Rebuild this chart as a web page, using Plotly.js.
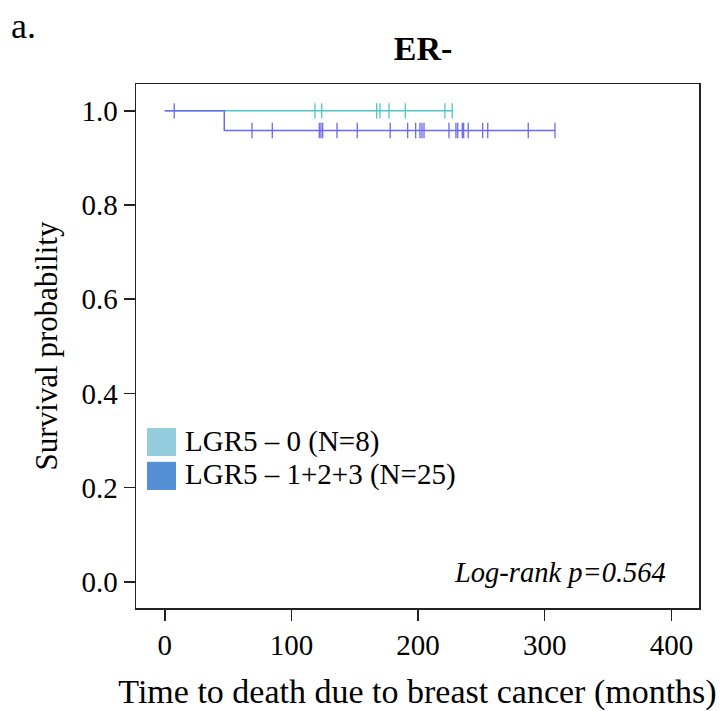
<!DOCTYPE html>
<html>
<head>
<meta charset="utf-8">
<script src="https://cdn.plot.ly/plotly-3.0.1.min.js"></script>
<style>html,body{margin:0;padding:0;background:#fff;}#chart{width:725px;height:711px;}</style>
</head>
<body>
<div id="chart"></div>
<script>
// Group names
const groupNames = ["LGR5 \u2013 0 (N=8)", "LGR5 \u2013 1+2+3 (N=25)"];
// Event (death) times, months
const eventsLow = [];
const eventsHigh = [47.0];
// Censored times, months
const censorLow = [118.6, 123.9, 167.3, 169.9, 177.0, 189.9, 221.2, 227.0];
const censorHigh = [7.5, 68.9, 84.9, 122.0, 123.3, 124.7, 136.0, 152.0, 178.0, 191.8, 198.1,
  201.5, 203.1, 204.7, 224.4, 229.9, 231.3, 234.9, 236.0, 239.6, 251.0, 255.0, 287.0, 308.1];
const lineColors = ["#4EC6C6", "#6A6AF0"];
const legendColors = ["#94CDDD", "#558FD6"];
const xTicks = [0, 100, 200, 300, 400];
const yTicks = [0.0, 0.2, 0.4, 0.6, 0.8, 1.0];
const pText = "Log-rank p=0.564";

function km(events, censors) {
  const recs = events.map(t => ({t, e: 1})).concat(censors.map(t => ({t, e: 0})));
  recs.sort((a, b) => a.t - b.t || b.e - a.e);
  let n = recs.length, s = 1;
  const lx = [0], ly = [1], cx = [], cy = [];
  let i = 0;
  while (i < recs.length) {
    const t = recs[i].t;
    let d = 0, c = 0;
    while (i < recs.length && recs[i].t === t) { if (recs[i].e) d++; else c++; i++; }
    if (d > 0) { s = s * (1 - d / n); }
    lx.push(t); ly.push(s);
    for (let k = 0; k < c; k++) { cx.push(t); cy.push(s); }
    n -= d + c;
  }
  return {lx, ly, cx, cy};
}

const groups = [km(eventsLow, censorLow), km(eventsHigh, censorHigh)];
const traces = [];
groups.forEach((g, i) => {
  traces.push({x: g.lx, y: g.ly, mode: 'lines', line: {shape: 'hv', color: lineColors[i], width: 1.5},
    showlegend: false, hoverinfo: 'skip'});
  traces.push({x: g.cx, y: g.cy, mode: 'markers',
    marker: {symbol: 'line-ns-open', size: 11, line: {color: lineColors[i], width: 1.3}, color: lineColors[i]},
    showlegend: false, hoverinfo: 'skip'});
});

const serif = "Liberation Serif, Times New Roman, serif";
const layout = {
  width: 725, height: 711,
  margin: {l: 136, r: 26, t: 84, b: 103},
  paper_bgcolor: '#fff', plot_bgcolor: '#fff',
  font: {family: serif, color: '#000', size: 29},
  title: {text: '<b>ER-</b>', font: {family: serif, size: 34, color: '#000'},
    xref: 'paper', x: 0.51, xanchor: 'center', y: 0.932, yanchor: 'middle'},
  xaxis: {range: [-22.7, 421.8], tickvals: xTicks, ticktext: xTicks.map(String),
    ticks: 'outside', ticklen: 11, tickwidth: 1.5, tickcolor: '#222',
    showline: true, mirror: true, linecolor: '#222', linewidth: 1.5,
    showgrid: false, zeroline: false, tickfont: {size: 29},
    title: {text: 'Time to death due to breast cancer (months)', font: {size: 34}, standoff: 20}},
  yaxis: {range: [-0.0556, 1.057], tickvals: yTicks, ticktext: yTicks.map(v => v.toFixed(1)),
    ticks: 'outside', ticklen: 11, tickwidth: 1.5, tickcolor: '#222',
    showline: true, mirror: true, linecolor: '#222', linewidth: 1.5,
    showgrid: false, zeroline: false, tickfont: {size: 29},
    title: {text: 'Survival probability', font: {size: 31}, standoff: 14}},
  shapes: [
    {type: 'rect', xref: 'paper', yref: 'paper', x0: 0.0195, x1: 0.071, y0: 0.290, y1: 0.3435,
      fillcolor: legendColors[0], line: {width: 0}},
    {type: 'rect', xref: 'paper', yref: 'paper', x0: 0.0195, x1: 0.071, y0: 0.2252, y1: 0.279,
      fillcolor: legendColors[1], line: {width: 0}}
  ],
  annotations: [
    {text: groupNames[0], xref: 'paper', yref: 'paper', x: 0.083, y: 0.317, xanchor: 'left', yanchor: 'middle',
      showarrow: false, font: {size: 29}},
    {text: groupNames[1], xref: 'paper', yref: 'paper', x: 0.083, y: 0.254, xanchor: 'left', yanchor: 'middle',
      showarrow: false, font: {size: 29}},
    {text: '<i>' + pText + '</i>', xref: 'paper', yref: 'paper', x: 0.945, y: 0.0668, xanchor: 'right', yanchor: 'middle',
      showarrow: false, font: {size: 28.5}},
    {text: 'a.', xref: 'paper', yref: 'paper', x: -0.2, y: 1.111, xanchor: 'center', yanchor: 'middle',
      showarrow: false, font: {size: 36}}
  ]
};

Plotly.newPlot('chart', traces, layout, {displayModeBar: false, staticPlot: true});
</script>
</body>
</html>
